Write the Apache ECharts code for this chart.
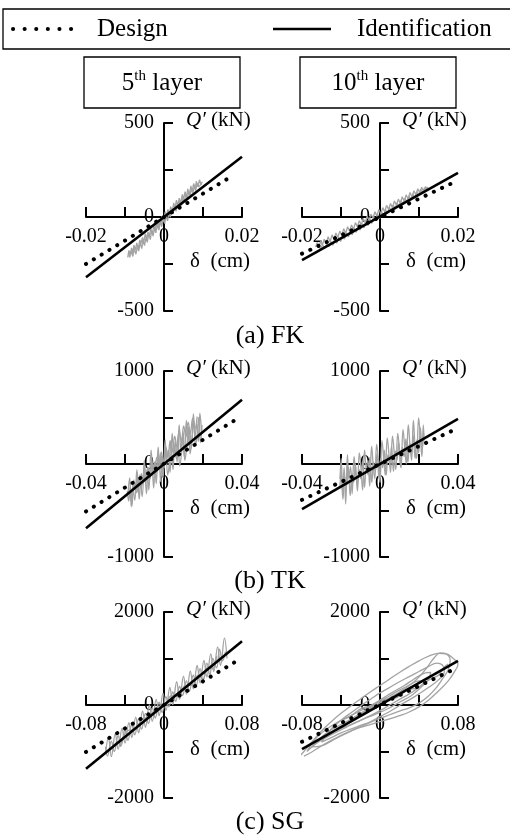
<!DOCTYPE html>
<html>
<head>
<meta charset="utf-8">
<script src="https://cdn.jsdelivr.net/npm/echarts@6/dist/echarts.min.js"></script>
<style>
  html, body { margin: 0; padding: 0; background: #fff; }
  #chart { width: 510px; height: 837px; }
</style>
</head>
<body>
<div id="chart"></div>
<script>
// ---- axis extents and tick labels ----
const deltaMax = { FK: 0.02, TK: 0.04, SG: 0.08 };   // δ (cm)
const shearMax = { FK: 500, TK: 1000, SG: 2000 };    // Q' (kN)
const layerNames = ['5', '10'];
const siteCaptions = ['(a) FK', '(b) TK', '(c) SG'];

// ---- identified stiffness lines (δ, Q') ----
const fk5Ident  = [[-0.02, -320], [0.02, 320]];
const fk10Ident = [[-0.02, -230], [0.02, 235]];
const tk5Ident  = [[-0.04, -690], [0.04, 690]];
const tk10Ident = [[-0.04, -485], [0.04, 485]];
const sg5Ident  = [[-0.08, -1370], [0.08, 1370]];
const sg10Ident = [[-0.08, -950], [0.08, 950]];

// ---- design stiffness lines (δ, Q') ----
const fk5Design  = [[-0.02, -250], [0.0178, 222]];
const fk10Design = [[-0.02, -195], [0.0187, 182]];
const tk5Design  = [[-0.04, -510], [0.0374, 484]];
const tk10Design = [[-0.04, -385], [0.039, 376]];
const sg5Design  = [[-0.08, -1010], [0.078, 990]];
const sg10Design = [[-0.08, -790], [0.078, 790]];

// ---- recorded hysteresis (δ, Q') ----
const fk5Record = [
  [[-0.0093,-215],[-0.0090,-178],[-0.0087,-200],[-0.0083,-165],[-0.0080,-192],[-0.0077,-150],[-0.0073,-175],[-0.0070,-138],[-0.0066,-168],[-0.0062,-122],[-0.0059,-140],[-0.0055,-108],[-0.0052,-135],[-0.0048,-88],[-0.0044,-115],[-0.0041,-80],[-0.0037,-100],[-0.0034,-60],[-0.0030,-92],[-0.0026,-45],[-0.0023,-70],[-0.0019,-28],[-0.0016,-58],[-0.0012,-12],[-0.0008,-40],[-0.0005,5],[-0.0001,-25],[0.0003,28],[0.0006,0],[0.0010,40],[0.0014,12],[0.0017,55],[0.0021,30],[0.0025,75],[0.0028,45],[0.0032,90],[0.0036,60],[0.0039,100],[0.0043,75],[0.0047,120],[0.0050,92],[0.0054,135],[0.0058,105],[0.0061,150],[0.0065,118],[0.0069,165],[0.0072,135],[0.0076,178],[0.0080,150],[0.0083,190],[0.0087,160],[0.0091,198],[0.0095,172],[0.0098,188]],
  [[0.0096,176],[0.0092,185],[0.0089,160],[0.0085,178],[0.0081,140],[0.0078,165],[0.0074,128],[0.0070,150],[0.0067,112],[0.0063,138],[0.0060,95],[0.0056,122],[0.0052,80],[0.0049,105],[0.0045,62],[0.0041,88],[0.0038,48],[0.0034,72],[0.0031,30],[0.0027,58],[0.0023,15],[0.0020,40],[0.0016,-2],[0.0013,22],[0.0009,-20],[0.0005,8],[0.0002,-35],[-0.0002,-8],[-0.0006,-52],[-0.0010,-22],[-0.0013,-70],[-0.0017,-40],[-0.0021,-85],[-0.0024,-55],[-0.0028,-102],[-0.0032,-72],[-0.0035,-120],[-0.0039,-88],[-0.0043,-135],[-0.0046,-105],[-0.0050,-152],[-0.0054,-120],[-0.0057,-168],[-0.0061,-138],[-0.0065,-182],[-0.0068,-152],[-0.0072,-198],[-0.0076,-168],[-0.0080,-210],[-0.0084,-182],[-0.0088,-215],[-0.0091,-195]]
];
const fk10Record = [
  [[-0.0165,-160],[-0.0161,-135],[-0.0157,-160],[-0.0152,-128],[-0.0148,-150],[-0.0143,-118],[-0.0138,-140],[-0.0133,-105],[-0.0128,-132],[-0.0123,-95],[-0.0118,-118],[-0.0113,-85],[-0.0108,-108],[-0.0103,-75],[-0.0098,-98],[-0.0093,-62],[-0.0088,-88],[-0.0083,-52],[-0.0078,-75],[-0.0073,-42],[-0.0068,-66],[-0.0063,-30],[-0.0058,-52],[-0.0053,-20],[-0.0048,-42],[-0.0043,-8],[-0.0038,-30],[-0.0033,4],[-0.0028,-18],[-0.0023,15],[-0.0018,-5],[-0.0013,28],[-0.0008,6],[-0.0003,40],[0.0002,16],[0.0007,50],[0.0012,28],[0.0017,62],[0.0022,40],[0.0027,72],[0.0032,50],[0.0037,85],[0.0042,62],[0.0047,95],[0.0052,72],[0.0057,108],[0.0062,84],[0.0067,118],[0.0072,96],[0.0077,130],[0.0082,105],[0.0087,140],[0.0092,118],[0.0097,150],[0.0102,128],[0.0107,158],[0.0112,135],[0.0117,162],[0.0121,145],[0.0125,155]],
  [[0.0122,160],[0.0118,140],[0.0114,155],[0.0109,128],[0.0104,148],[0.0099,115],[0.0094,135],[0.0089,102],[0.0084,124],[0.0079,92],[0.0074,112],[0.0069,78],[0.0064,100],[0.0059,66],[0.0054,88],[0.0049,55],[0.0044,76],[0.0039,42],[0.0034,64],[0.0029,30],[0.0024,52],[0.0019,18],[0.0014,40],[0.0009,5],[0.0004,28],[-0.0001,-8],[-0.0006,14],[-0.0011,-20],[-0.0016,2],[-0.0021,-34],[-0.0026,-10],[-0.0031,-45],[-0.0036,-22],[-0.0041,-58],[-0.0046,-36],[-0.0051,-70],[-0.0056,-48],[-0.0061,-82],[-0.0066,-60],[-0.0071,-95],[-0.0076,-72],[-0.0081,-106],[-0.0086,-84],[-0.0091,-118],[-0.0096,-96],[-0.0101,-130],[-0.0106,-108],[-0.0111,-140],[-0.0116,-120],[-0.0121,-150],[-0.0126,-130],[-0.0131,-158],[-0.0136,-142],[-0.0141,-165],[-0.0147,-150],[-0.0153,-168],[-0.0159,-155]]
];
const tk5Record = [
  [[-0.0185,-330],[-0.0176,-150],[-0.0168,-460],[-0.0160,-230],[-0.0150,-390],[-0.0139,-60],[-0.0132,-300],[-0.0124,-120],[-0.0112,-350],[-0.0101,40],[-0.0094,-180],[-0.0086,-60],[-0.0078,-280],[-0.0066,150],[-0.0058,-90],[-0.0049,20],[-0.0040,-210],[-0.0030,180],[-0.0022,-20],[-0.0014,90],[-0.0005,-150],[0.0006,260],[0.0013,40],[0.0022,150],[0.0031,-90],[0.0042,330],[0.0050,110],[0.0058,240],[0.0067,20],[0.0078,420],[0.0086,160],[0.0095,300],[0.0104,80],[0.0115,470],[0.0123,230],[0.0131,380],[0.0140,170],[0.0151,540],[0.0159,290],[0.0168,430],[0.0176,240],[0.0184,548],[0.0192,350]],
  [[0.0195,420],[0.0187,230],[0.0178,500],[0.0170,310],[0.0161,200],[0.0153,470],[0.0143,260],[0.0134,110],[0.0126,400],[0.0117,190],[0.0107,40],[0.0098,350],[0.0090,120],[0.0081,-20],[0.0071,290],[0.0063,60],[0.0055,180],[0.0046,-60],[0.0036,240],[0.0028,20],[0.0019,-120],[0.0009,170],[0.0001,-40],[-0.0008,80],[-0.0017,-190],[-0.0027,110],[-0.0035,-90],[-0.0044,30],[-0.0053,-260],[-0.0063,60],[-0.0071,-150],[-0.0080,-40],[-0.0090,-320],[-0.0100,-10],[-0.0108,-220],[-0.0117,-100],[-0.0127,-380],[-0.0137,-90],[-0.0146,-280],[-0.0155,-170],[-0.0164,-450],[-0.0173,-250],[-0.0181,-400],[-0.0188,-290]],
  [[-0.0160,-340],[-0.0150,-200],[-0.0140,-310],[-0.0128,-150],[-0.0118,-260],[-0.0105,-110],[-0.0095,-200],[-0.0083,-40],[-0.0072,-160],[-0.0060,10],[-0.0049,-100],[-0.0037,70],[-0.0026,-50],[-0.0014,130],[-0.0003,10],[0.0009,190],[0.0020,70],[0.0032,250],[0.0043,130],[0.0055,300],[0.0066,180],[0.0078,360],[0.0089,240],[0.0101,410],[0.0112,290],[0.0124,450],[0.0135,330],[0.0147,490],[0.0158,380],[0.0170,510]]
];
const tk10Record = [
  [[-0.0205,-160],[-0.0199,60],[-0.0192,-300],[-0.0184,-40],[-0.0176,-430],[-0.0167,100],[-0.0160,-150],[-0.0151,-30],[-0.0143,-320],[-0.0133,80],[-0.0125,-100],[-0.0116,-220],[-0.0106,120],[-0.0097,-60],[-0.0089,-280],[-0.0079,150],[-0.0070,-40],[-0.0062,40],[-0.0053,-240],[-0.0043,190],[-0.0035,-10],[-0.0027,-160],[-0.0017,210],[-0.0008,30],[0.0000,-200],[0.0010,250],[0.0019,60],[0.0027,-120],[0.0037,280],[0.0046,100],[0.0054,-90],[0.0064,300],[0.0073,120],[0.0081,-60],[0.0091,330],[0.0100,150],[0.0108,-40],[0.0118,370],[0.0127,170],[0.0135,0],[0.0145,420],[0.0154,200],[0.0162,40],[0.0171,470],[0.0180,180],[0.0188,60],[0.0198,495],[0.0208,250],[0.0215,80],[0.0222,420],[0.0226,250]],
  [[0.0224,330],[0.0216,160],[0.0207,390],[0.0198,120],[0.0189,260],[0.0180,60],[0.0170,310],[0.0161,110],[0.0152,230],[0.0143,20],[0.0133,270],[0.0124,80],[0.0115,180],[0.0106,-30],[0.0096,230],[0.0087,40],[0.0078,140],[0.0069,-80],[0.0059,190],[0.0050,0],[0.0041,100],[0.0032,-120],[0.0022,150],[0.0013,-40],[0.0004,60],[-0.0005,-160],[-0.0015,110],[-0.0024,-80],[-0.0033,20],[-0.0042,-200],[-0.0052,70],[-0.0061,-120],[-0.0070,-20],[-0.0079,-250],[-0.0089,30],[-0.0098,-160],[-0.0107,-60],[-0.0116,-290],[-0.0126,0],[-0.0135,-200],[-0.0144,-100],[-0.0153,-340],[-0.0163,-30],[-0.0172,-240],[-0.0181,-140],[-0.0190,-380],[-0.0199,-80],[-0.0206,-260]]
];
const sg5Record = [
  [[-0.0600,-1050],[-0.0570,-700],[-0.0540,-1110],[-0.0500,-620],[-0.0470,-950],[-0.0430,-500],[-0.0400,-820],[-0.0360,-380],[-0.0330,-700],[-0.0290,-260],[-0.0260,-600],[-0.0220,-130],[-0.0190,-480],[-0.0150,0],[-0.0120,-350],[-0.0080,120],[-0.0050,-230],[-0.0010,250],[0.0020,-120],[0.0060,380],[0.0090,10],[0.0130,500],[0.0160,120],[0.0200,620],[0.0230,230],[0.0270,730],[0.0300,350],[0.0340,850],[0.0370,470],[0.0410,960],[0.0440,600],[0.0480,1100],[0.0510,720],[0.0550,1250],[0.0580,850],[0.0620,1440],[0.0646,1000]],
  [[0.0630,1150],[0.0600,950],[0.0570,1200],[0.0540,800],[0.0500,1000],[0.0470,640],[0.0440,900],[0.0400,520],[0.0370,780],[0.0330,420],[0.0300,640],[0.0260,300],[0.0230,520],[0.0190,200],[0.0160,400],[0.0120,80],[0.0090,280],[0.0050,-40],[0.0020,180],[-0.0020,-160],[-0.0050,60],[-0.0090,-280],[-0.0120,-60],[-0.0160,-400],[-0.0190,-180],[-0.0230,-520],[-0.0260,-300],[-0.0300,-640],[-0.0330,-420],[-0.0370,-760],[-0.0400,-540],[-0.0440,-880],[-0.0470,-660],[-0.0510,-1000],[-0.0540,-780],[-0.0580,-1100],[-0.0600,-900]],
  [[-0.0450,-900],[-0.0380,-560],[-0.0300,-520],[-0.0220,-300],[-0.0150,-260],[-0.0080,-60],[0.0000,-20],[0.0080,200],[0.0150,180],[0.0220,420],[0.0290,420],[0.0350,640],[0.0400,560],[0.0450,820],[0.0500,780],[0.0540,1050]]
];
const sg10Record = [
  [[-0.084,-1140],[-0.078,-1000],[-0.070,-800],[-0.060,-560],[-0.050,-360],[-0.040,-180],[-0.030,-20],[-0.020,130],[-0.010,280],[0.000,420],[0.010,560],[0.020,700],[0.030,830],[0.040,950],[0.050,1050],[0.060,1110],[0.068,1100],[0.075,1000],[0.080,880],[0.076,700],[0.070,520],[0.060,300],[0.050,110],[0.040,-40],[0.030,-150],[0.020,-230],[0.010,-300],[0.000,-360],[-0.010,-420],[-0.020,-480],[-0.030,-560],[-0.040,-650],[-0.050,-760],[-0.060,-880],[-0.070,-1010],[-0.078,-1100]],
  [[-0.060,-800],[-0.050,-520],[-0.040,-330],[-0.030,-170],[-0.020,-20],[-0.010,120],[0.000,260],[0.010,380],[0.020,500],[0.030,610],[0.040,720],[0.050,830],[0.058,900],[0.064,860],[0.066,720],[0.060,540],[0.050,380],[0.040,240],[0.030,110],[0.020,-10],[0.010,-140],[0.000,-250],[-0.010,-360],[-0.020,-440],[-0.030,-520],[-0.040,-600],[-0.050,-700],[-0.060,-800]],
  [[-0.070,-900],[-0.055,-600],[-0.040,-420],[-0.025,-250],[-0.010,-80],[0.005,100],[0.020,280],[0.030,420],[0.040,600],[0.048,800],[0.055,1000],[0.062,1120],[0.068,1100],[0.072,950],[0.070,760],[0.064,560],[0.058,380],[0.050,200],[0.040,40],[0.030,-60],[0.020,-130],[0.010,-210],[0.000,-290],[-0.015,-420],[-0.030,-560],[-0.045,-720],[-0.060,-880],[-0.070,-900]],
  [[-0.040,-500],[-0.030,-330],[-0.020,-180],[-0.010,-50],[0.000,80],[0.010,200],[0.020,320],[0.030,430],[0.040,520],[0.045,500],[0.040,380],[0.030,240],[0.020,120],[0.010,0],[0.000,-120],[-0.010,-230],[-0.020,-330],[-0.030,-420],[-0.040,-500]],
  [[-0.075,-1000],[-0.065,-700],[-0.050,-450],[-0.035,-280],[-0.020,-120],[-0.005,40],[0.010,240],[0.025,420],[0.035,560],[0.045,680],[0.052,700],[0.050,560],[0.042,380],[0.032,200],[0.020,60],[0.008,-80],[-0.005,-200],[-0.020,-330],[-0.035,-480],[-0.050,-640],[-0.065,-820],[-0.075,-1000]],
  [[-0.055,-700],[-0.045,-400],[-0.030,-240],[-0.018,-60],[-0.005,-20],[0.005,120],[0.015,140],[0.028,320],[0.040,380],[0.052,560],[0.060,640],[0.066,820],[0.070,880]]
];

// panel list: site, layer index, data
const panels = [
  { site: 'FK', layer: 0, record: fk5Record,  design: fk5Design,  ident: fk5Ident,  smooth: false },
  { site: 'FK', layer: 1, record: fk10Record, design: fk10Design, ident: fk10Ident, smooth: false },
  { site: 'TK', layer: 0, record: tk5Record,  design: tk5Design,  ident: tk5Ident,  smooth: 0.45 },
  { site: 'TK', layer: 1, record: tk10Record, design: tk10Design, ident: tk10Ident, smooth: 0.45 },
  { site: 'SG', layer: 0, record: sg5Record,  design: sg5Design,  ident: sg5Ident,  smooth: 0.4 },
  { site: 'SG', layer: 1, record: sg10Record, design: sg10Design, ident: sg10Ident, smooth: 0.4 }
];

// ---- layout ----
const colLeft = [86, 302];
const colWidth = 156;
const rowTop = [123, 371, 612];
const rowHeight = [188, 186, 186];
const FONT = '"Liberation Serif", "Times New Roman", serif';

const grids = [], xAxes = [], yAxes = [], series = [], graphics = [];

function near(a, b) { return Math.abs(a - b) < 1e-9; }

panels.forEach((p, i) => {
  const col = i % 2, row = Math.floor(i / 2);
  const R = deltaMax[p.site], Q = shearMax[p.site];
  grids.push({ left: colLeft[col], top: rowTop[row], width: colWidth, height: rowHeight[row] });
  // both axes cross at the origin: shift them into the middle of the grid
  xAxes.push({
    type: 'value', gridIndex: i, min: -R, max: R, interval: R / 2,
    position: 'bottom', offset: -rowHeight[row] / 2,
    axisLine: { onZero: false, lineStyle: { color: '#000', width: 2 } },
    axisTick: { inside: true, length: 10, lineStyle: { color: '#000', width: 2 } },
    splitLine: { show: false },
    axisLabel: {
      color: '#000', fontFamily: FONT, fontSize: 20, margin: 10,
      formatter: v => near(v, 0) ? '0' : (near(Math.abs(v), R) ? String(v) : '')
    }
  });
  yAxes.push({
    type: 'value', gridIndex: i, min: -Q, max: Q, interval: Q / 2,
    position: 'left', offset: -colWidth / 2,
    axisLine: { onZero: false, lineStyle: { color: '#000', width: 2 } },
    axisTick: { inside: true, length: 9, lineStyle: { color: '#000', width: 2 } },
    splitLine: { show: false },
    axisLabel: {
      color: '#000', fontFamily: FONT, fontSize: 20, margin: 10,
      formatter: v => (v % Q === 0) ? String(v) : ''
    }
  });
  p.record.forEach(trace => series.push({
    type: 'line', xAxisIndex: i, yAxisIndex: i, data: trace, symbol: 'none', smooth: p.smooth,
    lineStyle: { color: '#a3a3a3', width: 1.3 }, z: 2, silent: true
  }));
  series.push({
    name: 'Design', type: 'line', xAxisIndex: i, yAxisIndex: i, data: p.design, symbol: 'none',
    lineStyle: { color: '#000', width: 4, type: [0.1, 9], cap: 'round' }, z: 3
  });
  series.push({
    name: 'Identification', type: 'line', xAxisIndex: i, yAxisIndex: i, data: p.ident, symbol: 'none',
    lineStyle: { color: '#000', width: 2.6 }, z: 4
  });

  // axis titles
  const yAxisX = colLeft[col] + colWidth / 2;
  const zeroY = rowTop[row] + rowHeight[row] / 2;
  graphics.push({
    type: 'text', left: yAxisX + 22, top: rowTop[row] - 13,
    style: {
      text: '{q|Q′}{n| (kN)}',
      rich: {
        q: { fontFamily: FONT, fontSize: 21, fontStyle: 'italic', fill: '#000' },
        n: { fontFamily: FONT, fontSize: 21, fill: '#000' }
      }
    }
  });
  graphics.push({
    type: 'text', left: yAxisX + 26, top: zeroY + 34,
    style: { text: 'δ  (cm)', fontFamily: FONT, fontSize: 21, fill: '#000' }
  });
});

// layer boxes
layerNames.forEach((n, col) => {
  graphics.push({
    type: 'rect', shape: { x: colLeft[col] - 2, y: 57, width: colWidth, height: 51 },
    style: { fill: 'none', stroke: '#000', lineWidth: 1.3 }
  });
  graphics.push({
    type: 'text', x: colLeft[col] - 2 + colWidth / 2, y: 83,
    style: {
      text: '{b|' + n + '}{s|th}{b| layer}', align: 'center', verticalAlign: 'middle',
      rich: {
        b: { fontFamily: FONT, fontSize: 25, fill: '#000', lineHeight: 28 },
        s: { fontFamily: FONT, fontSize: 15, fill: '#000', verticalAlign: 'top', lineHeight: 28, padding: [0, 0, 12, 0] }
      }
    }
  });
});

// site captions
siteCaptions.forEach((t, row) => {
  graphics.push({
    type: 'text', x: 270, y: [336, 581, 822][row],
    style: { text: t, align: 'center', verticalAlign: 'middle', fontFamily: FONT, fontSize: 26, fill: '#000' }
  });
});

// legend box
graphics.push(
  { type: 'rect', shape: { x: 3, y: 9, width: 520, height: 40 }, style: { fill: 'none', stroke: '#000', lineWidth: 1.3 } },
  { type: 'polyline', shape: { points: [[13, 29], [72, 29]] }, style: { stroke: '#000', lineWidth: 4, lineDash: [0.1, 11.5], lineCap: 'round' } },
  { type: 'text', x: 97, y: 29, style: { text: 'Design', verticalAlign: 'middle', fontFamily: FONT, fontSize: 25, fill: '#000' } },
  { type: 'polyline', shape: { points: [[273, 29], [331, 29]] }, style: { stroke: '#000', lineWidth: 2.6 } },
  { type: 'text', x: 357, y: 29, style: { text: 'Identification', verticalAlign: 'middle', fontFamily: FONT, fontSize: 25, fill: '#000' } }
);

const chart = echarts.init(document.getElementById('chart'), null, { renderer: 'canvas' });
chart.setOption({
  animation: false,
  backgroundColor: '#fff',
  grid: grids,
  xAxis: xAxes,
  yAxis: yAxes,
  series: series,
  graphic: graphics
});
</script>
</body>
</html>
